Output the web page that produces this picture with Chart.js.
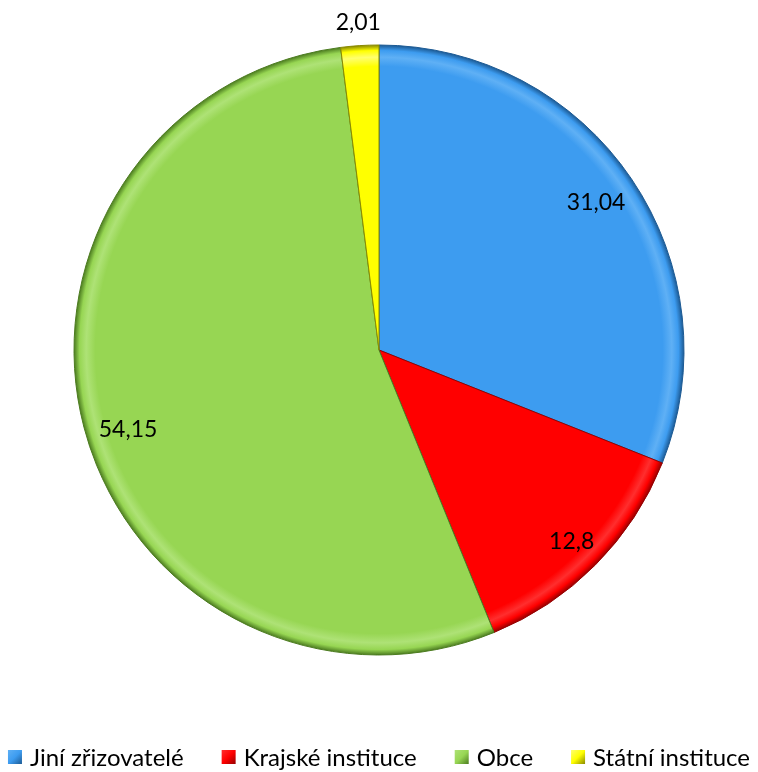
<!DOCTYPE html>
<html>
<head>
<meta charset="utf-8">
<script src="https://cdn.jsdelivr.net/npm/chart.js@4.4.1/dist/chart.umd.min.js"></script>
<style>
  html, body { margin: 0; padding: 0; background: #ffffff; }
  #wrap { position: relative; width: 758px; height: 772px; }
</style>
</head>
<body>
<div id="wrap"><canvas id="c" width="758" height="772"></canvas></div>
<script>
const categories = ['Jiní zřizovatelé', 'Krajské instituce', 'Obce', 'Státní instituce'];
const values = [31.04, 12.8, 54.15, 2.01];
const valueLabels = ['31,04', '12,8', '54,15', '2,01'];
const sliceColors = ['#3d9cf0', '#ff0000', '#97d653', '#ffff00'];
const rimColors = ['#1c5a94', '#950000', '#4c7c20', '#8a8a00'];
const hiColors = ['#5fb0f5', '#ff2e2e', '#aee276', '#ffff6e'];

const PIE_RADIUS = 305;

function radialFill(ctx) {
  const i = ctx.dataIndex;
  const chart = ctx.chart;
  const a = chart.chartArea;
  if (!a || !a.width) return sliceColors[i];
  const cx = (a.left + a.right) / 2, cy = (a.top + a.bottom) / 2;
  const g = chart.ctx.createRadialGradient(cx, cy, 0, cx, cy, PIE_RADIUS);
  g.addColorStop(0, sliceColors[i]);
  g.addColorStop(0.93, sliceColors[i]);
  g.addColorStop(0.96, hiColors[i]);
  g.addColorStop(0.982, sliceColors[i]);
  g.addColorStop(1, rimColors[i]);
  return g;
}

// label placement: fraction of radius & angular shift (radians) per slice
const labelPlacement = [
  { frac: 0.86, shift: 0.0 },
  { frac: 0.89, shift: 0.0 },
  { frac: 0.863, shift: -0.05 },
  { frac: 1.075, shift: 0.0 }
];

const valueLabelPlugin = {
  id: 'valueLabels',
  afterDatasetsDraw(chart) {
    const meta = chart.getDatasetMeta(0);
    const c = chart.ctx;
    c.save();
    c.font = '23px Lato, "Open Sans", sans-serif';
    c.fillStyle = '#000000';
    c.textAlign = 'center';
    c.textBaseline = 'middle';
    meta.data.forEach((arc, i) => {
      const p = labelPlacement[i];
      const mid = (arc.startAngle + arc.endAngle) / 2 + p.shift;
      const r = arc.outerRadius * p.frac;
      c.fillText(valueLabels[i], arc.x + Math.cos(mid) * r, arc.y + Math.sin(mid) * r);
    });
    c.restore();
  }
};

// bottom legend (Excel-like spacing)
const legendStyle = { font: '24px Lato, "Open Sans", sans-serif', box: 14, boxGap: 8, itemGap: 38, y: 757 };
const bottomLegendPlugin = {
  id: 'bottomLegend',
  afterDraw(chart) {
    const c = chart.ctx;
    const s = legendStyle;
    c.save();
    c.font = s.font;
    const widths = categories.map(t => s.box + s.boxGap + c.measureText(t).width);
    const total = widths.reduce((a, b) => a + b, 0) + s.itemGap * (categories.length - 1);
    let x = (chart.width - total) / 2;
    c.textBaseline = 'middle';
    c.textAlign = 'left';
    categories.forEach((t, i) => {
      const by = s.y - s.box / 2;
      const g = c.createLinearGradient(x, by, x + s.box, by + s.box);
      g.addColorStop(0, hiColors[i]);
      g.addColorStop(0.5, sliceColors[i]);
      g.addColorStop(1, rimColors[i]);
      c.fillStyle = g;
      c.fillRect(x, by, s.box, s.box);
      c.fillStyle = '#000000';
      c.fillText(t, x + s.box + s.boxGap, s.y + 1);
      x += widths[i] + s.itemGap;
    });
    c.restore();
  }
};

new Chart(document.getElementById('c'), {
  type: 'pie',
  data: {
    labels: categories,
    datasets: [{
      data: values,
      backgroundColor: radialFill,
      borderColor: rimColors,
      borderWidth: 1,
      radius: PIE_RADIUS
    }]
  },
  options: {
    responsive: false,
    animation: false,
    layout: { padding: { top: 0, bottom: 72, left: 0, right: 0 } },
    plugins: {
      tooltip: { enabled: false },
      legend: { display: false }
    }
  },
  plugins: [valueLabelPlugin, bottomLegendPlugin]
});
</script>
</body>
</html>
